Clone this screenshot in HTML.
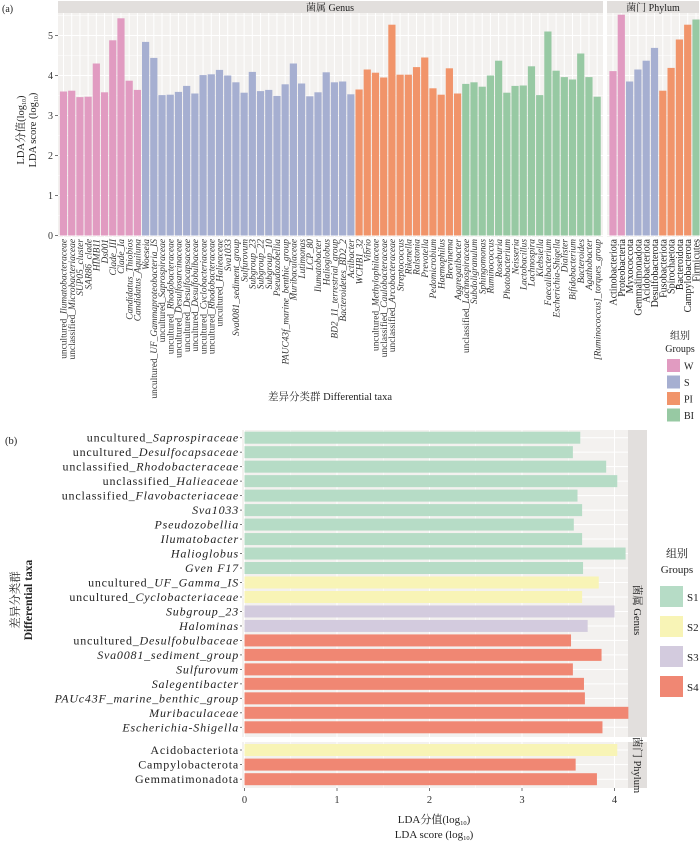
<!DOCTYPE html>
<html><head><meta charset="utf-8"><style>
html,body{margin:0;padding:0;background:#fff;}
svg{display:block;font-family:"Liberation Serif","Noto Serif CJK SC",serif;}
</style></head><body>
<svg id="chart" width="700" height="852" viewBox="0 0 700 852" xmlns="http://www.w3.org/2000/svg"></svg>
<script>
// ---------- Panel (a) data ----------
const aCategories = ["uncultured_Ilumatobacteraceae","unclassified_Microbacteriaceae","SUP05_cluster","SAR86_clade","HIMB11","Ds001","Clade_III","Clade_Ia","Candidatus_Thiobios","Candidatus_Aquiluna",
"Woeseia","uncultured_UF_Gammaproteobacteria_IS","uncultured_Saprospiraceae","uncultured_Rhodobacteraceae","uncultured_Desulfosarcinaceae","uncultured_Desulfocapsaceae","uncultured_Desulfobulbaceae","uncultured_Cyclobacteriaceae","uncultured_Rhodobacteraceae","uncultured_Halieaceae","Sva1033","Sva0081_sediment_group","Sulfurovum","Subgroup_23","Subgroup_22","Subgroup_10","Pseudozobellia","PAUC43f_marine_benthic_group","Muribaculaceae","Lutimonas","LCP_80","Ilumatobacter","Halioglobus","BD2_11_terrestrial_group","Bacteroidetes_BD2_2","Actibacter",
"WCHB1_32","Vibrio","uncultured_Methylophilaceae","unclassified_Caulobacteraceae","unclassified_Arcobacteraceae","Streptococcus","Rikenella","Ralstonia","Prevotella","Pedomicrobium","Haemophilus","Brevinema","Aggregatibacter",
"unclassified_Lachnospiraceae","Subdoligranulum","Sphingomonas","Ruminococcus","Roseburia","Photobacterium","Neisseria","Lactobacillus","Lachnospira","Klebsiella","Faecalibacterium","Escherichia-Shigella","Dialister","Bifidobacterium","Bacteroides","Agathobacter","[Ruminococcus]_torques_group"];
const aGroups = ["W","W","W","W","W","W","W","W","W","W",
"S","S","S","S","S","S","S","S","S","S","S","S","S","S","S","S","S","S","S","S","S","S","S","S","S","S",
"PI","PI","PI","PI","PI","PI","PI","PI","PI","PI","PI","PI","PI",
"BI","BI","BI","BI","BI","BI","BI","BI","BI","BI","BI","BI","BI","BI","BI","BI","BI"];
const aValues = [3.60,3.62,3.46,3.47,4.30,3.58,4.88,5.43,3.87,3.64,
4.84,4.44,3.51,3.52,3.59,3.74,3.55,4.01,4.03,4.14,4.00,3.83,3.57,4.09,3.61,3.64,3.49,3.78,4.30,3.80,3.48,3.58,4.08,3.83,3.85,3.53,
3.65,4.15,4.07,3.95,5.27,4.02,4.02,4.21,4.45,3.68,3.52,4.18,3.55,
3.79,3.83,3.72,4.00,4.37,3.57,3.74,3.75,4.23,3.51,5.10,4.12,3.96,3.90,4.55,3.96,3.47];
const aPhylumCategories = ["Actinobacteriota","Proteobacteria","Myxococcota","Gemmatimonadota","Acidobacteriota","Desulfobacterota","Fusobacteriota","Spirochaetota","Bacteroidota","Campylobacterota","Firmicutes"];
const aPhylumGroups = ["W","W","S","S","S","S","PI","PI","PI","PI","BI"];
const aPhylumValues = [4.11,5.52,3.85,4.15,4.37,4.69,3.62,4.19,4.90,5.27,5.40];
const aTicks = [0,1,2,3,4,5];
const aLegendKeys = ["W","S","PI","BI"];

// ---------- Panel (b) data ----------
const bCategories = ["uncultured_Saprospiraceae","uncultured_Desulfocapsaceae","unclassified_Rhodobacteraceae","unclassified_Halieaceae","unclassified_Flavobacteriaceae","Sva1033","Pseudozobellia","Ilumatobacter","Halioglobus","Gven F17","uncultured_UF_Gamma_IS","uncultured_Cyclobacteriaceae","Subgroup_23","Halominas","uncultured_Desulfobulbaceae","Sva0081_sediment_group","Sulfurovum","Salegentibacter","PAUc43F_marine_benthic_group","Muribaculaceae","Escherichia-Shigella"];
const bGroups = ["S1","S1","S1","S1","S1","S1","S1","S1","S1","S1","S2","S2","S3","S3","S4","S4","S4","S4","S4","S4","S4"];
const bValues = [3.63,3.55,3.91,4.03,3.60,3.65,3.56,3.65,4.12,3.66,3.83,3.65,4.00,3.71,3.53,3.86,3.55,3.67,3.68,4.15,3.87];
const bPhylumCategories = ["Acidobacteriota","Campylobacterota","Gemmatimonadota"];
const bPhylumGroups = ["S2","S4","S4"];
const bPhylumValues = [4.03,3.58,3.81];
const bTicks = [0,1,2,3,4];
const bLegendKeys = ["S1","S2","S3","S4"];

const colorsA = {W:"#e19bc1",S:"#a6afd1",PI:"#f1946a",BI:"#97c9a3"};
const colorsB = {S1:"#b6dcc6",S2:"#f8f4b6",S3:"#d3cbde",S4:"#f08773"};
const NS="http://www.w3.org/2000/svg";
const svg=document.getElementById("chart");
function mk(tag,attrs,parent){const e=document.createElementNS(NS,tag);for(const k in attrs)e.setAttribute(k,attrs[k]);(parent||svg).appendChild(e);return e;}
function addLabel(t,name,italicAll){
  let pre="",rest=name;
  const m=name.match(/^(uncultured_|unclassified_)(.*)$/);
  if(m){pre=m[1];rest=m[2];}
  if(pre){const s=mk("tspan",{},t);s.textContent=pre;}
  const s2=mk("tspan",{"font-style":italicAll?"italic":"normal"},t);s2.textContent=rest;
}

// ================= Panel (a) =================
const aPanelTop=13, aPanelBot=237;
function ay(v){return 235.5-40*v;}
function axG(i){return 63.5+8.21*i;}
function axP(j){return 613+8.3*j;}
const barWA=7.2;
let p=mk("rect",{x:58,y:aPanelTop,width:545,height:aPanelBot-aPanelTop,fill:"#f3f1ef"});


p=mk("rect",{x:607,y:aPanelTop,width:92,height:aPanelBot-aPanelTop,fill:"#f3f1ef"});


let st=mk("rect",{x:58,y:1,width:545,height:12,fill:"#e2dfdd"});


st=mk("rect",{x:607,y:1,width:92,height:12,fill:"#e2dfdd"});


let tx=mk("text",{x:330,y:11,"font-size":10,"text-anchor":"middle",fill:"#222"});tx.textContent="菌属 Genus";


tx=mk("text",{x:653,y:11,"font-size":10,"text-anchor":"middle",fill:"#222"});tx.textContent="菌门 Phylum";


for(let v=0;v<=5.5;v+=0.5){
  const y=ay(v); if(y<aPanelTop)continue;
  for(const [x0,x1] of [[58,603],[607,699]]){
    const g=mk("line",{x1:x0,x2:x1,y1:y,y2:y,stroke:"#fff","stroke-width":Number.isInteger(v)?1:0.5});
    
    
  }
}
aCategories.forEach((c,i)=>{const g=mk("line",{x1:axG(i),x2:axG(i),y1:aPanelTop,y2:aPanelBot,stroke:"#fff","stroke-width":1});

});
aPhylumCategories.forEach((c,j)=>{const g=mk("line",{x1:axP(j),x2:axP(j),y1:aPanelTop,y2:aPanelBot,stroke:"#fff","stroke-width":1});

});
aValues.forEach((v,i)=>{
  const b=mk("rect",{x:axG(i)-barWA/2,y:ay(v),width:barWA,height:ay(0)-ay(v),fill:colorsA[aGroups[i]]});
  
  
  const t=mk("text",{x:axG(i)+3.2,y:239,"font-size":9.4,"text-anchor":"end",fill:"#333",transform:`rotate(-90 ${axG(i)+3.2} 239)`});
  addLabel(t,aCategories[i],true);
  
  
});
aPhylumValues.forEach((v,j)=>{
  const b=mk("rect",{x:axP(j)-barWA/2,y:ay(v),width:barWA,height:ay(0)-ay(v),fill:colorsA[aPhylumGroups[j]]});
  
  
  const t=mk("text",{x:axP(j)+3.5,y:239,"font-size":10,"text-anchor":"end",fill:"#222",transform:`rotate(-90 ${axP(j)+3.5} 239)`});
  t.textContent=aPhylumCategories[j];
  
  
});
aTicks.forEach(v=>{
  const tk=mk("line",{x1:55,x2:58,y1:ay(v),y2:ay(v),stroke:"#555","stroke-width":0.8});
  
  
  const t=mk("text",{x:53,y:ay(v)+3.5,"font-size":10,"text-anchor":"end",fill:"#333"});t.textContent=v;
  
  
});
tx=mk("text",{x:2,y:12,"font-size":10,fill:"#222"});tx.textContent="(a)";


let yt=mk("g",{transform:"translate(24 130) rotate(-90)"});


tx=mk("text",{x:0,y:0,"font-size":10.5,"text-anchor":"middle",fill:"#222"},yt);tx.innerHTML='LDA分值(log<tspan font-size="6" dy="2">10</tspan><tspan dy="-2">)</tspan>';
tx=mk("text",{x:0,y:12,"font-size":10.5,"text-anchor":"middle",fill:"#222"},yt);tx.innerHTML='LDA score (log<tspan font-size="6" dy="2">10</tspan><tspan dy="-2">)</tspan>';
tx=mk("text",{x:330,y:400,"font-size":10.5,"text-anchor":"middle",fill:"#222"});tx.textContent="差异分类群 Differential taxa";


tx=mk("text",{x:680,y:339,"font-size":10,"text-anchor":"middle",fill:"#222"});tx.textContent="组别";


tx=mk("text",{x:680,y:352,"font-size":10,"text-anchor":"middle",fill:"#222"});tx.textContent="Groups";


aLegendKeys.forEach((k,i)=>{
  const y=359+i*16.5;
  const r=mk("rect",{x:667,y:y,width:13,height:13,fill:colorsA[k]});
  
  
  const t=mk("text",{x:684,y:y+10.5,"font-size":10,fill:"#222"});t.textContent=k;
  
  
});

// ================= Panel (b) =================
function bx(v){return 244.5+92.5*v;}
function byG(i){return 437.7+14.48*i;}
function byP(j){return 750+14.6*j;}
const barHB=12;
const gTop=430,gBot=737,pTop=742,pBot=788,bL=242,bR=628;
p=mk("rect",{x:bL,y:gTop,width:bR-bL,height:gBot-gTop,fill:"#f3f1ef"});


p=mk("rect",{x:bL,y:pTop,width:bR-bL,height:pBot-pTop,fill:"#f3f1ef"});


st=mk("rect",{x:bR,y:gTop,width:19,height:gBot-gTop,fill:"#e2dfdd"});


st=mk("rect",{x:bR,y:pTop,width:19,height:pBot-pTop,fill:"#e2dfdd"});


tx=mk("text",{x:0,y:0,"font-size":10.5,"text-anchor":"middle",fill:"#222",transform:`translate(634 610) rotate(90)`});tx.textContent="菌属 Genus";


tx=mk("text",{x:0,y:0,"font-size":10.5,"text-anchor":"middle",fill:"#222",transform:`translate(634 765) rotate(90)`});tx.textContent="菌门 Phylum";


for(let v=0;v<=4.15;v+=0.5){
  for(const [y0,y1] of [[gTop,gBot],[pTop,pBot]]){
    const g=mk("line",{x1:bx(v),x2:bx(v),y1:y0,y2:y1,stroke:"#fff","stroke-width":Number.isInteger(v)?1:0.5});
    
    
  }
}
bCategories.forEach((c,i)=>{const g=mk("line",{x1:bL,x2:bR,y1:byG(i),y2:byG(i),stroke:"#fff","stroke-width":1});

});
bPhylumCategories.forEach((c,j)=>{const g=mk("line",{x1:bL,x2:bR,y1:byP(j),y2:byP(j),stroke:"#fff","stroke-width":1});

});
bValues.forEach((v,i)=>{
  const b=mk("rect",{x:bx(0),y:byG(i)-barHB/2,width:bx(v)-bx(0),height:barHB,fill:colorsB[bGroups[i]]});
  
  
  const tk=mk("line",{x1:240,x2:242,y1:byG(i),y2:byG(i),stroke:"#555","stroke-width":0.8});
  
  
  const t=mk("text",{x:239,y:byG(i)+4,"font-size":12,"text-anchor":"end",fill:"#222","letter-spacing":"0.8"});
  addLabel(t,bCategories[i],true);
  
  
});
bPhylumValues.forEach((v,j)=>{
  const b=mk("rect",{x:bx(0),y:byP(j)-barHB/2,width:bx(v)-bx(0),height:barHB,fill:colorsB[bPhylumGroups[j]]});
  
  
  const tk=mk("line",{x1:240,x2:242,y1:byP(j),y2:byP(j),stroke:"#555","stroke-width":0.8});
  
  
  const t=mk("text",{x:239,y:byP(j)+4,"font-size":12,"text-anchor":"end",fill:"#222","letter-spacing":"0.8"});
  t.textContent=bPhylumCategories[j];
  
  
});
bTicks.forEach(v=>{
  const tk=mk("line",{x1:bx(v),x2:bx(v),y1:pBot,y2:pBot+3,stroke:"#555","stroke-width":0.8});
  
  
  const t=mk("text",{x:bx(v),y:803,"font-size":10.5,"text-anchor":"middle",fill:"#333"});t.textContent=v;
  
  
});
tx=mk("text",{x:5,y:444,"font-size":10.5,fill:"#222"});tx.textContent="(b)";


yt=mk("g",{transform:"translate(19 600) rotate(-90)"});


tx=mk("text",{x:0,y:0,"font-size":11.5,"text-anchor":"middle",fill:"#222"},yt);tx.textContent="差异分类群";
tx=mk("text",{x:0,y:13,"font-size":11.5,"text-anchor":"middle",fill:"#222","font-weight":"bold"},yt);tx.textContent="Differential taxa";
let xt=mk("g",{});


tx=mk("text",{x:434,y:823,"font-size":11,"text-anchor":"middle",fill:"#222"},xt);tx.innerHTML='LDA分值(log<tspan font-size="6.5" dy="2">10</tspan><tspan dy="-2">)</tspan>';
tx=mk("text",{x:434,y:838,"font-size":11,"text-anchor":"middle",fill:"#222"},xt);tx.innerHTML='LDA score (log<tspan font-size="6.5" dy="2">10</tspan><tspan dy="-2">)</tspan>';
tx=mk("text",{x:677,y:557,"font-size":11,"text-anchor":"middle",fill:"#222"});tx.textContent="组别";


tx=mk("text",{x:677,y:573,"font-size":11,"text-anchor":"middle",fill:"#222"});tx.textContent="Groups";


bLegendKeys.forEach((k,i)=>{
  const y=586+i*30;
  const r=mk("rect",{x:660,y:y,width:23,height:21,fill:colorsB[k]});
  
  
  const t=mk("text",{x:687,y:y+15,"font-size":11,fill:"#222"});t.textContent=k;
  
  
});
</script>
</body></html>
